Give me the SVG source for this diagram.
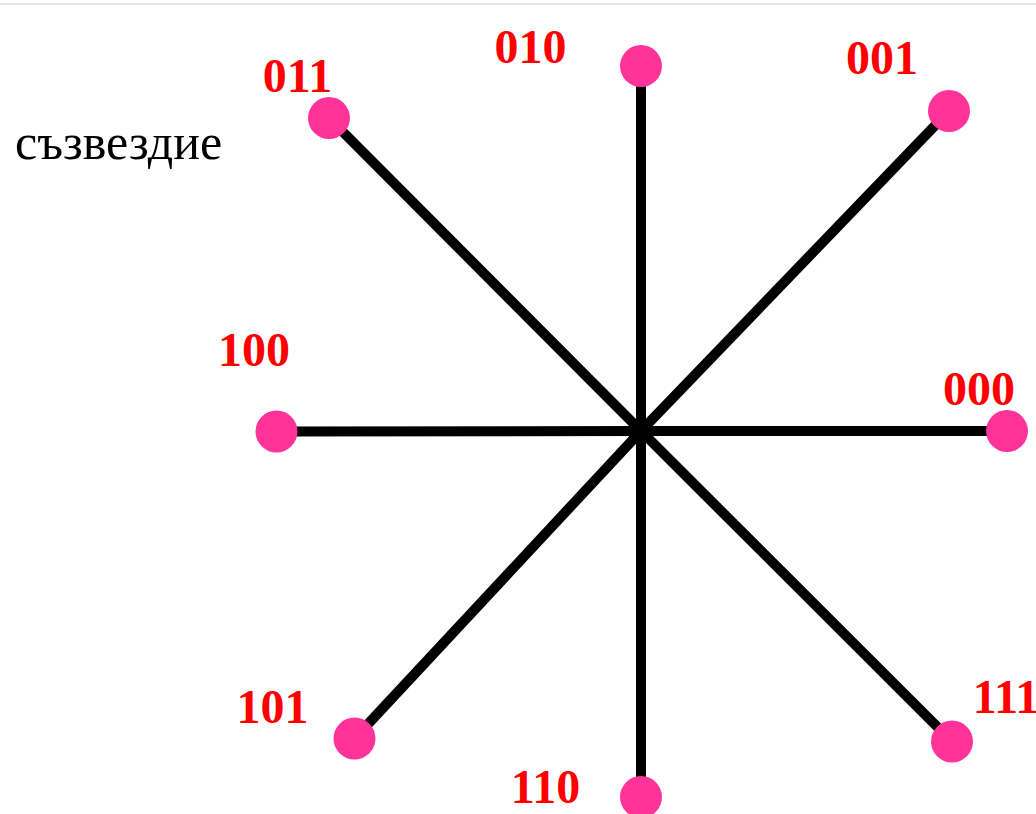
<svg xmlns="http://www.w3.org/2000/svg" width="1036" height="814" viewBox="0 0 1036 814">
<style>
.spoke{stroke:#000;stroke-width:10;fill:none}
.pt{fill:#ff3399}
.lbl{font-family:"Liberation Serif","Times New Roman",serif;font-weight:bold;font-size:48px;fill:#ff0000;text-anchor:middle}
.title{font-family:"Liberation Serif","Times New Roman",serif;font-size:50px;fill:#000}
</style>
<rect x="0" y="0" width="1036" height="814" fill="#fff"/>
<rect x="0" y="3" width="1036" height="2" fill="#e6e6e6"/>
<text class="title" x="15" y="159">съзвездие</text>
<g id="connectors">
<line class="spoke" x1="641" y1="431" x2="1007" y2="431"/>
<line class="spoke" x1="641" y1="431" x2="949" y2="111"/>
<line class="spoke" x1="641" y1="431" x2="641" y2="66"/>
<line class="spoke" x1="641" y1="431" x2="329" y2="118"/>
<line class="spoke" x1="641" y1="431" x2="276.5" y2="431.5"/>
<line class="spoke" x1="641" y1="431" x2="354.5" y2="738.5"/>
<line class="spoke" x1="641" y1="431" x2="641" y2="797"/>
<line class="spoke" x1="641" y1="431" x2="952" y2="741.5"/>
</g>
<g id="n000"><circle class="pt" cx="1007" cy="431" r="21"/><text class="lbl" x="979" y="405">000</text></g>
<g id="n001"><circle class="pt" cx="949" cy="111" r="21"/><text class="lbl" x="882" y="74">001</text></g>
<g id="n010"><circle class="pt" cx="641" cy="66" r="21"/><text class="lbl" x="530.5" y="63">010</text></g>
<g id="n011"><circle class="pt" cx="329" cy="118" r="21"/><text class="lbl" x="297.5" y="92">011</text></g>
<g id="n100"><circle class="pt" cx="276.5" cy="431.5" r="21"/><text class="lbl" x="254" y="366">100</text></g>
<g id="n101"><circle class="pt" cx="354.5" cy="738.5" r="21"/><text class="lbl" x="272.5" y="723">101</text></g>
<g id="n110"><circle class="pt" cx="641" cy="797" r="21"/><text class="lbl" x="545.5" y="803">110</text></g>
<g id="n111"><circle class="pt" cx="952" cy="741.5" r="21"/><text class="lbl" x="1006" y="713">111</text></g>
</svg>
